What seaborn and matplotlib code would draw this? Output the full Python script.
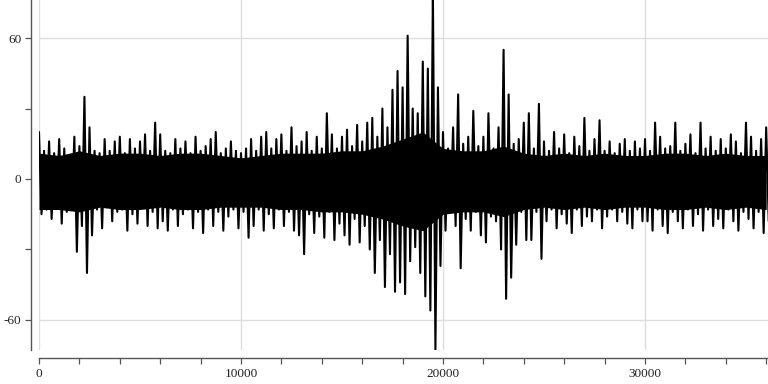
import numpy as np
import pandas as pd
import matplotlib
matplotlib.use("Agg")
import matplotlib.pyplot as plt
from matplotlib.ticker import MultipleLocator, FuncFormatter
import seaborn as sns

# Signal: upper and lower swing per 250-sample step
step = 250
upper = [20, 12, 16, 11, 17, 13, 10, 18, 14, 35, 22, 12, 11, 17, 12, 16, 18, 11, 17, 13, 16, 19, 12, 24,
         19, 12, 11, 17, 13, 16, 11, 18, 12, 14, 17, 20, 11, 13, 16, 12, 11, 13, 17, 12, 18, 20, 13, 17,
         19, 12, 22, 14, 16, 20, 12, 18, 13, 28, 19, 13, 18, 21, 14, 23, 16, 24, 26, 18, 30, 22, 38, 46,
         39, 61, 30, 28, 50, 47, 80, 39, 20, 13, 22, 36, 15, 18, 29, 14, 18, 28, 13, 22, 55, 36, 15, 17,
         24, 28, 13, 32, 16, 12, 20, 13, 19, 11, 18, 14, 26, 12, 17, 25, 12, 16, 11, 15, 17, 12, 16, 13,
         17, 12, 24, 18, 13, 14, 24, 12, 15, 19, 11, 24, 13, 18, 12, 17, 13, 19, 16, 11, 24, 18, 12, 17, 22]
lower = [-15, -13, -17, -12, -19, -14, -13, -31, -20, -40, -24, -13, -21, -12, -18, -14, -13, -22, -15, -19, -12, -20, -14, -21,
         -18, -22, -13, -20, -15, -13, -21, -14, -23, -13, -20, -14, -22, -16, -13, -21, -14, -25, -20, -13, -22, -15, -21, -13,
         -20, -14, -22, -24, -32, -15, -23, -16, -25, -14, -26, -19, -24, -28, -17, -27, -20, -30, -40, -26, -46, -32, -48, -44,
         -49, -35, -29, -40, -50, -56, -73, -37, -22, -14, -20, -38, -17, -22, -14, -24, -27, -16, -18, -30, -51, -42, -28, -14,
         -26, -26, -14, -34, -18, -13, -21, -15, -19, -23, -13, -20, -16, -18, -13, -21, -16, -13, -18, -14, -19, -21, -13, -18,
         -18, -22, -13, -20, -23, -14, -18, -21, -13, -20, -15, -22, -13, -20, -17, -21, -13, -18, -22, -14, -17, -21, -14, -23, -18]

# Edges of the dense (solid) band, read every 1000 samples
core_step = 1000
core_hi = [11, 10, 12, 10, 11, 11, 10, 11, 11, 10, 9, 10, 11, 11, 11, 12, 12, 14, 17, 20,
           13, 12, 12, 14, 11, 10, 11, 10, 11, 10, 10, 11, 11, 10, 11, 10, 10]
core_lo = [-13, -13, -14, -12, -13, -13, -12, -13, -13, -12, -12, -12, -13, -13, -14, -14, -15, -17, -20, -22,
           -15, -14, -14, -16, -13, -12, -13, -12, -13, -12, -12, -13, -13, -12, -13, -12, -13]

x_major = [0, 10000, 20000, 30000]
y_major = [-60, 0, 60]

n = len(upper)
t = np.arange(n) * step
xs = np.empty(2 * n)
ys = np.empty(2 * n)
xs[0::2] = t
xs[1::2] = t + step / 2
ys[0::2] = upper
ys[1::2] = lower
df = pd.DataFrame({"sample": xs, "value": ys})
tc = np.arange(len(core_hi)) * core_step

sns.set_theme(style="white")
plt.rcParams["font.family"] = ["Liberation Serif", "DejaVu Serif"]

fig = plt.figure(figsize=(7.68, 3.84), dpi=100)
ax = fig.add_axes([39 / 768, 34 / 384, 729 / 768, 350 / 384])

ax.fill_between(tc, core_lo, core_hi, color="black", linewidth=0, zorder=2)
sns.lineplot(data=df, x="sample", y="value", ax=ax, color="black",
             linewidth=1.5, estimator=None, sort=False, zorder=3)

ax.set_xlim(0, 36090)
ax.set_ylim(-72.8, 76.2)

ax.xaxis.set_major_locator(plt.FixedLocator(x_major))
ax.xaxis.set_minor_locator(MultipleLocator(2000))
ax.yaxis.set_major_locator(plt.FixedLocator(y_major))
ax.yaxis.set_minor_locator(MultipleLocator(30))
ax.xaxis.set_major_formatter(FuncFormatter(lambda v, p: f"{int(v)}"))
ax.yaxis.set_major_formatter(FuncFormatter(lambda v, p: f"{int(v)}"))

ax.grid(True, which="major", color="#dddddd", linewidth=1)
ax.grid(False, which="minor")
ax.set_axisbelow(True)

for s in ["top", "right"]:
    ax.spines[s].set_visible(False)
for s in ["left", "bottom"]:
    ax.spines[s].set_position(("outward", 5.8))
    ax.spines[s].set_color("#555555")
    ax.spines[s].set_linewidth(1)

ax.tick_params(axis="both", which="both", direction="out", length=4.5, width=0.9,
               color="#555555", labelsize=9.5, labelcolor="#222222", pad=2.5)
ax.tick_params(axis="x", which="both", bottom=True)
ax.tick_params(axis="y", which="both", left=True)
ax.set_xlabel("")
ax.set_ylabel("")

fig.savefig("out.png", dpi=100)
